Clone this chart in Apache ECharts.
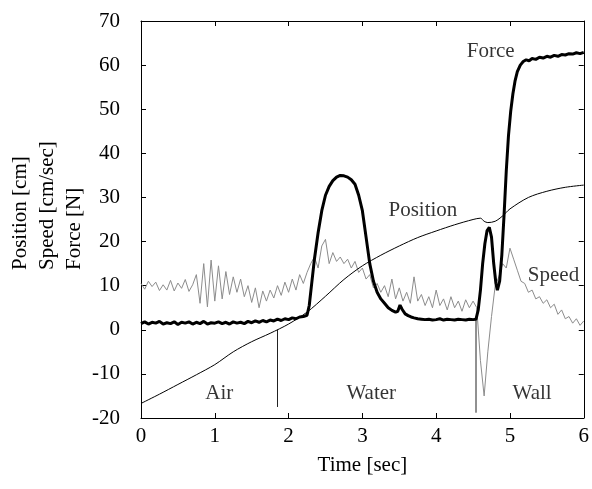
<!DOCTYPE html>
<html>
<head>
<meta charset="utf-8">
<script src="https://cdn.jsdelivr.net/npm/echarts@6/dist/echarts.min.js"></script>
<style>html,body{margin:0;padding:0;background:#fff}#c{width:592px;height:489px}</style>
</head>
<body>
<div id="c"></div>
<script>
// ---- data ----
var xTicks = [0, 1, 2, 3, 4, 5, 6];
var yTicks = [-20, -10, 0, 10, 20, 30, 40, 50, 60, 70];

var positionTime = [0, 0.25, 0.5, 0.75, 1, 1.25, 1.5, 1.75, 2, 2.25, 2.5, 2.75, 3, 3.25, 3.5, 3.75, 4, 4.25, 4.5, 4.6, 4.65, 4.7, 4.8, 4.9, 5, 5.25, 5.5, 5.75, 6];
var positionValue = [-16.7, -14.6, -12.4, -10.2, -7.9, -5.0, -2.7, -0.8, 1.3, 4.0, 7.6, 11.4, 14.5, 16.9, 19.0, 20.9, 22.4, 23.8, 25.0, 25.3, 24.6, 24.3, 24.6, 25.8, 27.4, 30.0, 31.4, 32.3, 32.8];

var speedStep = 0.05;
var speedValue = [
 10.5, 9.2, 11.0, 9.8, 10.8, 8.9, 10.2, 9.0, 11.2, 8.8,
 10.6, 9.4, 11.4, 8.7, 10.2, 12.5, 6.0, 15.0, 5.2, 15.8,
 6.5, 14.5, 7.0, 13.2, 8.0, 12.0, 8.5, 11.5, 7.5, 10.0,
 6.2, 9.5, 5.0, 8.8, 6.5, 9.0, 7.2, 10.0, 7.8, 10.8,
 8.5, 11.5, 9.0, 12.5, 10.5, 13.0, 15.0, 16.5, 14.0, 19.0,
 20.5, 15.0, 17.5, 15.5, 16.5, 15.0, 16.0, 14.0, 15.5, 13.0,
 14.0, 11.5, 12.5, 9.5, 10.5, 8.5, 10.0, 7.5, 11.5, 7.0,
 9.5, 6.5, 8.5, 6.0, 12.0, 6.5, 8.0, 5.5, 7.5, 5.0,
 9.0, 5.5, 7.0, 4.5, 7.5, 5.0, 6.5, 4.2, 6.8, 5.0,
 6.5, 5.0, -7.0, -15.0, -5.0, 3.0, 10.0, 12.0, 15.0, 14.0,
 18.5, 16.0, 13.5, 11.0, 10.5, 8.5, 9.0, 7.0, 7.5, 6.0,
 6.8, 5.0, 5.8, 3.5, 4.5, 2.5, 3.0, 1.5, 2.5, 1.0,
 2.0
];

var forceEarlyStep = 0.05;
var forceEarlyValue = [1.4, 1.8, 1.3, 1.7, 1.5, 1.9, 1.3, 1.6, 1.4, 1.8, 1.2, 1.7, 1.5, 1.8, 1.3, 1.7, 1.4, 1.9, 1.3, 1.6, 1.5, 1.8, 1.4, 1.7, 1.3, 1.8, 1.5, 1.7, 1.4, 1.9, 1.6, 2.0, 1.7, 2.1, 1.8, 2.2, 2.0, 2.4, 2.1, 2.5, 2.3, 2.7, 2.5, 2.9, 3.0];
var forceLateTime = [2.25, 2.28, 2.31, 2.35, 2.40, 2.45, 2.50, 2.55, 2.60, 2.65, 2.70, 2.75, 2.80, 2.85, 2.90, 2.95, 3.00, 3.05, 3.10, 3.15, 3.20, 3.25, 3.30, 3.35, 3.40, 3.45, 3.48, 3.51, 3.54, 3.58, 3.62, 3.66, 3.70, 3.75, 3.80, 3.85, 3.90, 3.95, 4.00, 4.05, 4.10, 4.15, 4.20, 4.25, 4.30, 4.35, 4.40, 4.45, 4.50, 4.54, 4.57, 4.60, 4.63, 4.66, 4.69, 4.72, 4.75, 4.78, 4.81, 4.83, 4.86, 4.89, 4.92, 4.95, 4.98, 5.01, 5.04, 5.07, 5.10, 5.14, 5.18, 5.22, 5.26, 5.30, 5.35, 5.40, 5.45, 5.50, 5.55, 5.60, 5.65, 5.70, 5.75, 5.80, 5.85, 5.90, 5.95, 6.00];
var forceLateValue = [3.3, 5.5, 10, 16, 22, 27, 30.5, 32.5, 33.8, 34.6, 35.0, 34.9, 34.6, 34.0, 33.0, 30.5, 27, 21, 15, 11, 8.5, 7, 6, 5, 4.4, 4.0, 4.2, 5.6, 4.6, 3.6, 3.2, 2.9, 2.7, 2.5, 2.4, 2.3, 2.4, 2.2, 2.3, 2.5, 2.2, 2.4, 2.3, 2.2, 2.4, 2.3, 2.2, 2.4, 2.3, 2.4, 4.5, 9, 15, 19.5, 22.5, 23.2, 21, 15, 10.5, 9, 11, 17, 26, 36, 44, 49.5, 53.5, 56.5, 58.5, 60, 60.8, 61.2, 61.0, 61.5, 61.3, 61.8, 61.6, 62.0, 61.8, 62.2, 62.0, 62.4, 62.3, 62.6, 62.5, 62.8, 62.6, 62.9];

var markerTime = [1.85, 4.54];
var markerTop = [0, 2.2];
var markerBottom = [-17.5, -18.8];

var labelText = ['Force', 'Position', 'Speed', 'Air', 'Water', 'Wall'];
var labelX = [4.74, 3.82, 5.59, 1.06, 3.12, 5.30];
var labelY = [63.0, 27.1, 12.4, -14.4, -14.4, -14.4];

var yTitleLines = ['Position [cm]', 'Speed [cm/sec]', 'Force [N]'];
var xTitle = 'Time [sec]';

// ---- build ----
var FONT = '"Liberation Serif", "Times New Roman", serif';
var FS = 21;
function zip(t, v) { return t.map(function (x, i) { return [x, v[i]]; }); }
var speedData = speedValue.map(function (v, i) { return [+(i * speedStep).toFixed(3), v]; });
var forceData = forceEarlyValue.map(function (v, i) { return [+(i * forceEarlyStep).toFixed(3), v]; })
  .concat(zip(forceLateTime, forceLateValue));
var positionData = zip(positionTime, positionValue);
var markerSeries = markerTime.map(function (t, i) {
  return {
    type: 'line', data: [[t, markerTop[i]], [t, markerBottom[i]]], symbol: 'none',
    lineStyle: { color: '#222', width: 1 }, silent: true, z: 3
  };
});
var labelData = labelText.map(function (s, i) { return { name: s, value: [labelX[i], labelY[i]] }; });

var chart = echarts.init(document.getElementById('c'), null, { renderer: 'canvas' });
function axisCommon() {
  return {
    type: 'value',
    axisLine: { show: true, onZero: false, lineStyle: { color: '#000', width: 1 } },
    axisTick: { show: true, inside: true, length: 5, lineStyle: { color: '#000' } },
    splitLine: { show: false }
  };
}
chart.setOption({
  animation: false,
  backgroundColor: '#fff',
  grid: { left: 141, right: 3, top: 21, bottom: 71, containLabel: false },
  xAxis: [
    Object.assign(axisCommon(), {
      min: xTicks[0], max: xTicks[xTicks.length - 1], interval: 1, position: 'bottom',
      axisLabel: { color: '#000', fontFamily: FONT, fontSize: FS, margin: 8 },
      name: xTitle, nameLocation: 'middle', nameGap: 37,
      nameTextStyle: { color: '#000', fontFamily: FONT, fontSize: FS }
    }),
    Object.assign(axisCommon(), {
      min: xTicks[0], max: xTicks[xTicks.length - 1], interval: 1, position: 'top',
      axisLabel: { show: false }
    })
  ],
  yAxis: [
    Object.assign(axisCommon(), {
      min: yTicks[0], max: yTicks[yTicks.length - 1], interval: 10, position: 'left',
      axisLabel: { color: '#000', fontFamily: FONT, fontSize: FS, margin: 21 }
    }),
    Object.assign(axisCommon(), {
      min: yTicks[0], max: yTicks[yTicks.length - 1], interval: 10, position: 'right',
      axisLabel: { show: false }
    })
  ],
  graphic: [{
    type: 'text', x: 7, y: 270, rotation: Math.PI / 2,
    style: {
      text: yTitleLines.join('\n'), font: FS + 'px ' + FONT, fill: '#000',
      textAlign: 'left', textVerticalAlign: 'top', lineHeight: 27
    }
  }],
  series: [
    { type: 'line', name: 'Speed', data: speedData, symbol: 'none', lineStyle: { color: '#8c8c8c', width: 1 }, z: 2 },
    { type: 'line', name: 'Position', data: positionData, symbol: 'none', smooth: 0.3, lineStyle: { color: '#000', width: 1 }, z: 4 },
    { type: 'line', name: 'Force', data: forceData, symbol: 'none', lineStyle: { color: '#000', width: 3 }, z: 5 }
  ].concat(markerSeries).concat([{
    type: 'scatter', data: labelData, symbolSize: 1, itemStyle: { color: 'rgba(0,0,0,0)' }, z: 6,
    label: {
      show: true, position: 'inside', formatter: function (p) { return p.name; },
      color: '#000', fontFamily: FONT, fontSize: FS
    }
  }])
});
</script>
</body>
</html>
